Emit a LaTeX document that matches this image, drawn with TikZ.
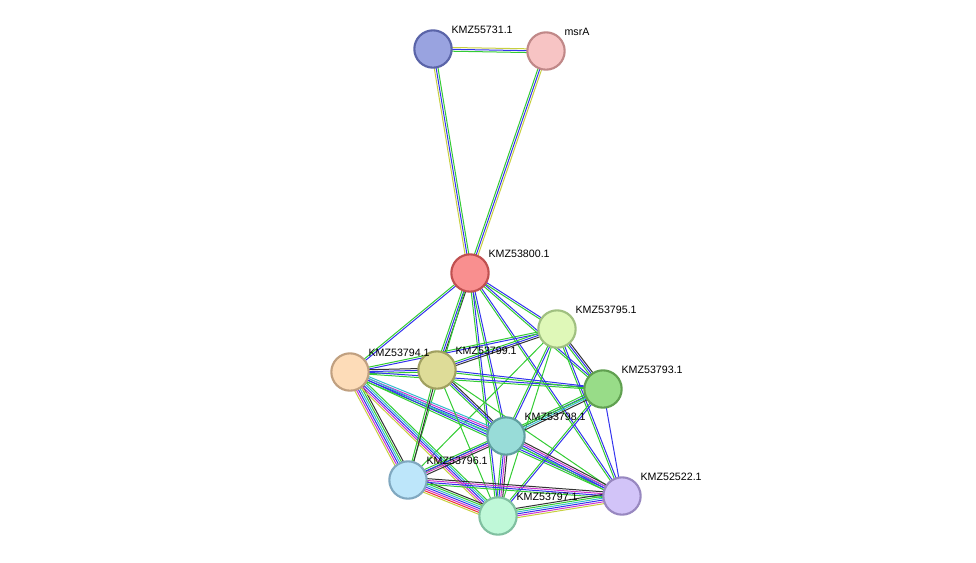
\documentclass[tikz,border=0pt]{standalone}
\usepackage{fontspec}
\setmainfont{Liberation Sans}
\usetikzlibrary{calc}
\definecolor{eG}{HTML}{33CC33}\definecolor{eB}{HTML}{3333EE}\definecolor{eY}{HTML}{C8D040}
\definecolor{eM}{HTML}{CC33CC}\definecolor{eC}{HTML}{33BBCC}\definecolor{eK}{HTML}{333333}\definecolor{eR}{HTML}{EE3333}
\newcommand\bund[3]{\foreach \c [count=\i] in {#3} {\draw[\c,line width=0.7pt] ($(#1)!{(\i*1.4-#2)*1pt}!90:(#2x)$) -- ($(#2x)!{(\i*1.4-#2)*1pt}!-90:(#1)$);}}
\newcommand\E[3]{\foreach \c [count=\i] in {#3} {\xdef\nn{\i}}%
 \foreach \c [count=\i] in {#3} {\draw[\c,line width=0.75pt] ($(#1)!{(\i-(\nn+1)/2)*1.4pt}!90:(#2)$) -- ($(#2)!{(\i-(\nn+1)/2)*1.4pt}!-90:(#1)$);}}
\tikzset{prot/.style={circle,line width=1.6pt,minimum size=28pt,inner sep=0pt},
 lab/.style={font=\fontsize{8}{9}\selectfont,anchor=south west,inner sep=1pt}}
\begin{document}
\begin{tikzpicture}[x=0.75pt,y=-0.75pt]
\useasboundingbox (0,0) rectangle (976,562);
\coordinate (a) at (433,49); \coordinate (m) at (546,51); \coordinate (c) at (470,273);
\coordinate (n95) at (557,329); \coordinate (n94) at (350,372); \coordinate (n99) at (437,370);
\coordinate (n93) at (603,389); \coordinate (n98) at (506,436); \coordinate (n96) at (408,480);
\coordinate (n97) at (498,516); \coordinate (n22) at (622,496);
\E{a}{m}{eG,eB,eY}
\E{a}{c}{eY,eB,eG}
\E{m}{c}{eG,eB,eY}
\E{c}{n95}{eG,eB}
\E{c}{n94}{eG,eB}
\E{c}{n99}{eG,eB,eK}
\E{c}{n93}{eG,eB}
\E{c}{n98}{eG,eB}
\E{c}{n96}{eG}
\E{c}{n97}{eG,eB}
\E{c}{n22}{eG,eB}
\E{n95}{n94}{eG,eB}
\E{n95}{n99}{eG,eB,eK}
\E{n95}{n93}{eG,eB,eK}
\E{n95}{n98}{eG,eB}
\E{n95}{n96}{eG}
\E{n95}{n97}{eG}
\E{n95}{n22}{eG,eB}
\E{n94}{n99}{eG,eB,eK}
\E{n94}{n93}{eG,eB}
\E{n94}{n98}{eG,eB,eM,eC}
\E{n94}{n96}{eY,eM,eB,eC,eG,eK}
\E{n94}{n97}{eY,eM,eB,eC,eG}
\E{n94}{n22}{eG,eB,eC}
\E{n99}{n93}{eG,eB}
\E{n99}{n98}{eG,eB,eK}
\E{n99}{n96}{eG,eK}
\E{n99}{n97}{eG}
\E{n99}{n22}{eG}
\E{n93}{n98}{eG,eB,eC,eK}
\E{n93}{n96}{eG}
\E{n93}{n97}{eG,eB}
\E{n93}{n22}{eB}
\E{n98}{n96}{eG,eB,eM,eK}
\E{n98}{n97}{eG,eB,eM,eK}
\E{n98}{n22}{eG,eB,eM,eK}
\E{n96}{n97}{eY,eR,eM,eB,eC,eG,eK}
\E{n96}{n22}{eG,eB,eM,eK}
\E{n97}{n22}{eY,eM,eB,eC,eG,eK}
\node[prot,fill={rgb,255:red,153;green,163;blue,224},draw={rgb,255:red,90;green,100;blue,168}] (A) at (a) {};
\node[prot,fill={rgb,255:red,247;green,196;blue,196},draw={rgb,255:red,192;green,136;blue,136}] (M) at (m) {};
\node[prot,fill={rgb,255:red,249;green,143;blue,143},draw={rgb,255:red,192;green,80;blue,80}] (C) at (c) {};
\node[prot,fill={rgb,255:red,223;green,248;blue,184},draw={rgb,255:red,160;green,192;blue,128}] (N95) at (n95) {};
\node[prot,fill={rgb,255:red,253;green,220;blue,184},draw={rgb,255:red,192;green,160;blue,128}] (N94) at (n94) {};
\node[prot,fill={rgb,255:red,222;green,220;blue,152},draw={rgb,255:red,160;green,160;blue,96}] (N99) at (n99) {};
\node[prot,fill={rgb,255:red,152;green,220;blue,136},draw={rgb,255:red,96;green,160;blue,80}] (N93) at (n93) {};
\node[prot,fill={rgb,255:red,152;green,220;blue,216},draw={rgb,255:red,96;green,160;blue,160}] (N98) at (n98) {};
\node[prot,fill={rgb,255:red,189;green,230;blue,250},draw={rgb,255:red,128;green,168;blue,192}] (N96) at (n96) {};
\node[prot,fill={rgb,255:red,191;green,248;blue,216},draw={rgb,255:red,128;green,192;blue,160}] (N97) at (n97) {};
\node[prot,fill={rgb,255:red,210;green,196;blue,248},draw={rgb,255:red,152;green,136;blue,192}] (N22) at (n22) {};
\foreach \n/\t in {a/KMZ55731.1,m/msrA,c/KMZ53800.1,n95/KMZ53795.1,n94/KMZ53794.1,n99/KMZ53799.1,n93/KMZ53793.1,n98/KMZ53798.1,n96/KMZ53796.1,n97/KMZ53797.1,n22/KMZ52522.1}
 \node[lab] (L\n) at ($(\n)+(17,-14)$) {\t};
\end{tikzpicture}
\end{document}
